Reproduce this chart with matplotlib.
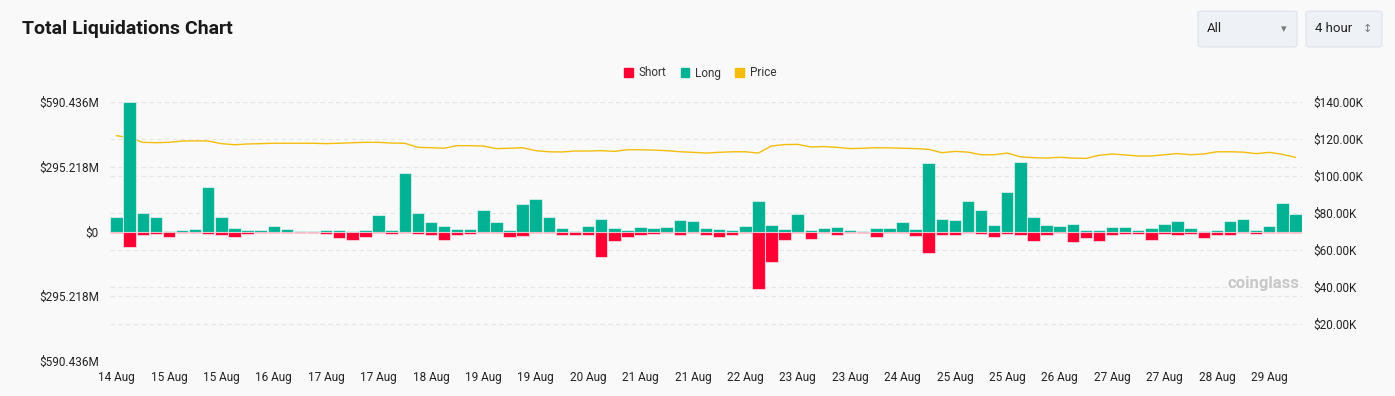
import numpy as np
import pandas as pd
import matplotlib
matplotlib.use("Agg")
import matplotlib.pyplot as plt
from matplotlib.patches import FancyBboxPatch, Patch

#-------------------------------------
# DATA (4 hour buckets, values in millions USD, price in thousands USD)
#-------------------------------------
times = pd.date_range("2025-08-14 08:00", periods=91, freq="4h")

long_liq = [67, 590, 85, 67, 2, 6, 11, 202, 65, 17, 8, 6, 26, 11, 3, 2, 8, 6, 3, 8,
            76, 8, 268, 85, 43, 23, 12, 12, 100, 44, 5, 125, 146, 68, 18, 3, 24, 59, 17, 6,
            20, 14, 21, 52, 50, 14, 11, 6, 27, 141, 29, 11, 78, 8, 15, 21, 6, 3, 15, 18,
            44, 11, 313, 58, 53, 140, 97, 30, 179, 318, 67, 29, 23, 33, 8, 8, 21, 21, 8, 15,
            35, 50, 18, 3, 6, 47, 55, 9, 26, 128, 79]

short_liq = [9, 71, 14, 11, 27, 9, 8, 12, 18, 23, 11, 6, 5, 9, 6, 5, 11, 30, 40, 23,
             6, 11, 8, 11, 15, 38, 18, 11, 9, 8, 23, 20, 9, 5, 14, 15, 15, 114, 44, 23,
             14, 11, 5, 17, 8, 14, 23, 14, 6, 260, 137, 38, 9, 32, 9, 14, 8, 9, 24, 5,
             9, 20, 100, 17, 17, 5, 12, 26, 11, 18, 43, 14, 6, 50, 29, 43, 18, 12, 12, 40,
             12, 14, 12, 30, 18, 17, 9, 12, 9, 5, 6]

price = [121.8, 120.7, 118.2, 118.0, 118.2, 118.9, 119.0, 118.9, 117.5, 116.9,
         117.3, 117.5, 117.7, 117.7, 117.7, 117.7, 117.5, 117.7, 118.0, 118.2,
         118.2, 117.8, 117.7, 115.5, 115.3, 115.0, 116.4, 116.4, 116.2, 114.8,
         115.0, 115.3, 113.7, 113.1, 113.0, 113.5, 113.5, 113.7, 113.3, 114.2,
         114.2, 114.0, 113.7, 113.1, 112.8, 112.4, 112.8, 113.1, 113.1, 112.4,
         116.2, 117.0, 117.1, 115.7, 115.9, 115.5, 114.8, 115.0, 115.3, 115.2,
         115.0, 114.8, 114.4, 112.6, 113.3, 112.9, 111.5, 111.5, 112.4, 110.4,
         109.9, 109.7, 110.1, 109.7, 109.5, 111.2, 111.9, 111.4, 110.8, 110.8,
         111.5, 112.1, 111.5, 111.9, 113.1, 113.1, 112.9, 112.1, 112.8, 111.7,
         110.1]

left_ticks = [-590.436, -295.218, 0, 295.218, 590.436]
left_labels = ["$590.436M", "$295.218M", "$0", "$295.218M", "$590.436M"]
right_ticks = [20, 40, 60, 80, 100, 120, 140]
right_labels = ["$20.00K", "$40.00K", "$60.00K", "$80.00K", "$100.00K", "$120.00K", "$140.00K"]

# colours
c_long = "#02b293"
c_short = "#ff0035"
c_price = "#f4bd0e"
bg = "#f9f9f9"
grid_c = "#e6e6e6"

plt.rcParams["font.family"] = ["Roboto", "DejaVu Sans"]

#-------------------------------------
# FIGURE
#-------------------------------------
fig = plt.figure(figsize=(13.95, 3.96), dpi=100, facecolor=bg)
ax = fig.add_axes([110 / 1395, 35 / 396, 1192 / 1395, 259 / 396])

x = np.arange(len(times))
ax.bar(x, long_liq, width=0.95, color=c_long, edgecolor=(1, 1, 1, 0.55), linewidth=0.8, zorder=3)
ax.bar(x, -np.array(short_liq), width=0.95, color=c_short, edgecolor=(1, 1, 1, 0.55), linewidth=0.8, zorder=3)

ax.set_xlim(-0.5, len(times) - 0.5)
ax.set_ylim(-590.436, 590.436)
ax.set_yticks(left_ticks)
ax.set_yticklabels(left_labels)
tick_idx = x[::4][:23]
ax.set_xticks(tick_idx)
ax.set_xticklabels([times[i].strftime("%-d %b") for i in tick_idx])
ax.tick_params(axis="both", length=0, labelsize=8.5, colors="#222222")
ax.tick_params(axis="x", pad=7)
ax.tick_params(axis="y", pad=8)
ax.grid(axis="y", color=grid_c, linestyle=(0, (4, 3)), linewidth=0.8, zorder=0)
for s in ax.spines.values():
    s.set_visible(False)

# price line on the right axis (drawn behind the bar axes so its grid stays under the bars)
ax2 = ax.twinx()
ax2.plot(x, price, color=c_price, linewidth=1.0, zorder=4)
ax2.set_ylim(0, 140)
ax2.set_yticks(right_ticks)
ax2.set_yticklabels(right_labels)
ax2.tick_params(axis="y", length=0, labelsize=8.5, colors="#222222", pad=8)
ax2.grid(axis="y", color=grid_c, linestyle=(0, (4, 3)), linewidth=0.8, zorder=0)
for s in ax2.spines.values():
    s.set_visible(False)
ax.set_zorder(ax2.get_zorder() + 1)
ax.patch.set_visible(False)
ax2.patch.set_visible(True)
ax2.patch.set_facecolor(bg)

# watermark
ax.text(0.998, 0.3, "coinglass", transform=ax.transAxes, ha="right", va="center",
        fontsize=12, fontweight="bold", color="#c8c8c8", zorder=1)

#-------------------------------------
# TITLE, LEGEND, CONTROLS
#-------------------------------------
fig.text(22 / 1395, 1 - 29 / 396, "Total Liquidations Chart", fontsize=14,
         fontweight="bold", color="#1a1a1a", va="center", ha="left")

handles = [Patch(color=c_short), Patch(color=c_long), Patch(color=c_price)]
fig.legend(handles, ["Short", "Long", "Price"], loc="center", ncol=3,
           bbox_to_anchor=(0.502, 1 - 73 / 396), frameon=False, fontsize=8.5,
           handlelength=0.75, handleheight=0.75, handletextpad=0.5, columnspacing=1.2,
           labelcolor="#333333")

for (x0, x1, label, arrow) in [(1198, 1297, "All", "\u25be"), (1306, 1382, "4 hour", "\u2195")]:
    box = FancyBboxPatch((x0 / 1395, 1 - 47 / 396), (x1 - x0) / 1395, 36 / 396,
                         boxstyle="round,pad=0,rounding_size=0.004",
                         transform=fig.transFigure, facecolor="#eef2f7",
                         edgecolor="#dde3ea", linewidth=0.8)
    fig.patches.append(box)
    fig.text((x0 + 9) / 1395, 1 - 29 / 396, label, fontsize=9.5, color="#222222",
             va="center", ha="left")
    fig.text((x1 - 10) / 1395, 1 - 29 / 396, arrow, fontsize=8, color="#777777",
             va="center", ha="right", family="DejaVu Sans")

plt.savefig("out.png", dpi=100, facecolor=bg)
